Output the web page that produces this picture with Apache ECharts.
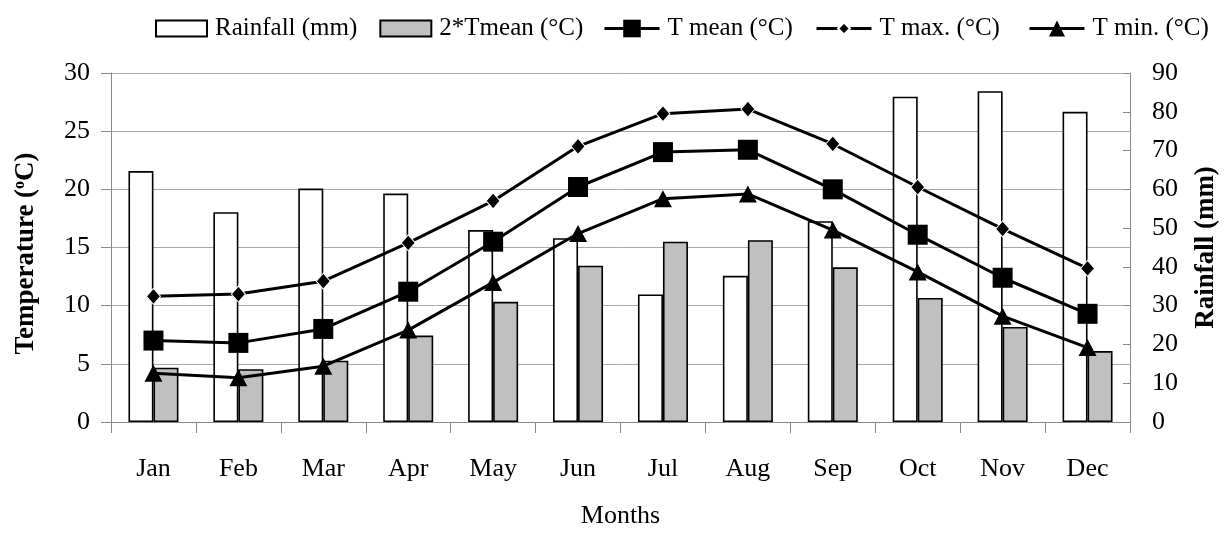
<!DOCTYPE html>
<html>
<head>
<meta charset="utf-8">
<script src="https://cdn.jsdelivr.net/npm/echarts@6/dist/echarts.min.js"></script>
<style>
html,body{margin:0;padding:0;background:#fff;}
#chart{width:1228px;height:534px;}
</style>
</head>
<body>
<div id="chart"></div>
<script>
const months = ['Jan','Feb','Mar','Apr','May','Jun','Jul','Aug','Sep','Oct','Nov','Dec'];
const rainfall = [64.7, 54.1, 60.2, 58.9, 49.5, 47.4, 32.9, 37.7, 51.8, 83.9, 85.3, 80.0];
const twiceTmean = [14.0, 13.6, 15.8, 22.3, 31.0, 40.3, 46.5, 46.9, 39.9, 32.0, 24.5, 18.3];
const tMean = [7.0, 6.8, 8.0, 11.2, 15.5, 20.2, 23.2, 23.4, 20.0, 16.1, 12.4, 9.3];
const tMax = [10.8, 11.0, 12.1, 15.4, 19.0, 23.7, 26.5, 26.9, 23.9, 20.2, 16.6, 13.2];
const tMin = [4.2, 3.8, 4.8, 7.9, 12.0, 16.2, 19.2, 19.6, 16.5, 12.9, 9.1, 6.4];
const tempTicks = {min: 0, max: 30, interval: 5};
const rainTicks = {min: 0, max: 90, interval: 10};

const FONT = "'Liberation Serif', 'Times New Roman', serif";
const chart = echarts.init(document.getElementById('chart'), null, {renderer: 'canvas'});

const lineBase = {
  type: 'line', yAxisIndex: 0, z: 5,
  lineStyle: {color: '#000', width: 3},
  itemStyle: {color: '#000'},
  symbolKeepAspect: true,
  animation: false
};
const legendText = {fontFamily: FONT, fontSize: 25, color: '#000', padding: [0,0,0,3]};
function mkLegend(left, names, w, h, icon) {
  const l = {left: left, top: 11, itemWidth: w, itemHeight: h, itemGap: 22,
    textStyle: legendText, lineStyle: {width: 3}, data: names};
  if (icon) l.icon = icon;
  return l;
}

chart.setOption({
  animation: false,
  textStyle: {fontFamily: FONT, color: '#000'},
  legend: [
    mkLegend(150, ['Rainfall (mm)', '2*Tmean (°C)'], 51, 16, 'rect'),
    mkLegend(598, ['T mean (°C)'], 55, 22),
    mkLegend(810, ['T max. (°C)'], 55, 15),
    mkLegend(1023, ['T min. (°C)'], 55, 20)
  ],
  grid: {left: 111, right: 91.5, top: 73, bottom: 105},
  xAxis: {
    type: 'category', data: months,
    name: 'Months', nameLocation: 'middle', nameGap: 81,
    nameTextStyle: {fontFamily: FONT, fontSize: 26, color: '#000'},
    axisLine: {lineStyle: {color: '#888', width: 1}},
    axisTick: {show: true, length: 11, lineStyle: {color: '#888'}},
    axisLabel: {fontFamily: FONT, fontSize: 26, color: '#000', margin: 34}
  },
  yAxis: [
    {
      type: 'value', position: 'left', ...tempTicks,
      name: 'Temperature ({sup|o}C)', nameLocation: 'middle', nameGap: 70, nameRotate: 90,
      nameTextStyle: {fontFamily: FONT, fontSize: 27, fontWeight: 'bold', color: '#000', padding: [0, 12, 0, 0],
        rich: {sup: {fontFamily: FONT, fontSize: 16, fontWeight: 'bold', color: '#000', padding: [0,0,13,0]}}},
      axisLine: {show: true, lineStyle: {color: '#888'}},
      axisTick: {show: true, length: 10, lineStyle: {color: '#888'}},
      axisLabel: {fontFamily: FONT, fontSize: 26, color: '#000', margin: 21},
      splitLine: {show: true, lineStyle: {color: '#a8a8a8', width: 1}}
    },
    {
      type: 'value', position: 'right', ...rainTicks,
      name: 'Rainfall (mm)', nameLocation: 'middle', nameGap: 63, nameRotate: 90,
      nameTextStyle: {fontFamily: FONT, fontSize: 27, fontWeight: 'bold', color: '#000'},
      axisLine: {show: true, lineStyle: {color: '#888'}},
      axisTick: {show: true, inside: true, length: 7, lineStyle: {color: '#888'}},
      axisLabel: {fontFamily: FONT, fontSize: 26, color: '#000', margin: 22},
      splitLine: {show: false}
    }
  ],
  series: [
    {
      name: 'Rainfall (mm)', type: 'bar', yAxisIndex: 1, data: rainfall,
      barWidth: 25, barGap: '0%',
      itemStyle: {color: '#fff', borderColor: '#000', borderWidth: 1.6}
    },
    {
      name: '2*Tmean (°C)', type: 'bar', yAxisIndex: 1, data: twiceTmean,
      barWidth: 25, barGap: '0%',
      itemStyle: {color: '#c0c0c0', borderColor: '#000', borderWidth: 1.6}
    },
    Object.assign({}, lineBase, {name: 'T mean (°C)', data: tMean, symbol: 'rect', symbolSize: 20}),
    Object.assign({}, lineBase, {name: 'T max. (°C)', data: tMax, symbol: 'diamond', symbolSize: [14, 16],
      itemStyle: {color: '#000', borderColor: '#fff', borderWidth: 1}}),
    Object.assign({}, lineBase, {name: 'T min. (°C)', data: tMin, symbol: 'triangle', symbolSize: [18, 17]})
  ]
});
</script>
</body>
</html>
